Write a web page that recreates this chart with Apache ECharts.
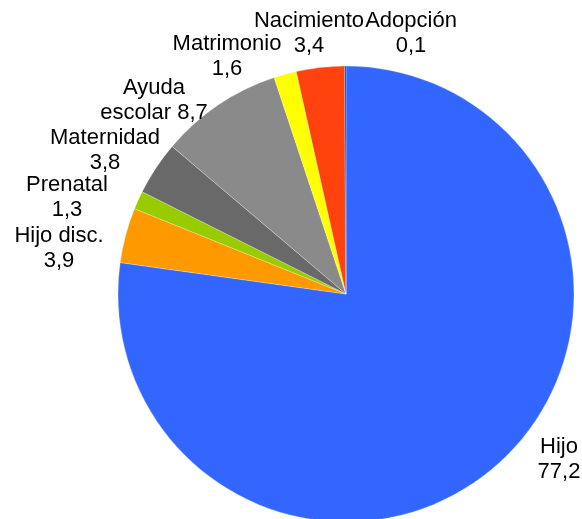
<!DOCTYPE html>
<html>
<head>
<meta charset="utf-8">
<script src="https://cdn.jsdelivr.net/npm/echarts@6/dist/echarts.min.js"></script>
<style>
    html, body { margin: 0; padding: 0; background: #fff; }
    #chart { width: 582px; height: 519px; }
</style>
</head>
<body>
<div id="chart"></div>
<script>
// datos del gráfico
var categorias = ['Hijo', 'Hijo disc.', 'Prenatal', 'Maternidad', 'Ayuda escolar', 'Matrimonio', 'Nacimiento', 'Adopción'];
var valores = [77.2, 3.9, 1.3, 3.8, 8.7, 1.6, 3.4, 0.1];
var colores = ['#3366FF', '#FF9900', '#99CC00', '#696969', '#8A8A8A', '#FFFF00', '#FF420E', '#004586'];
// posicion de cada etiqueta (centro del texto)
var etiquetaXY = [[559, 459], [59, 248], [67, 197], [105, 150], [154, 100], [227, 56], [309, 33], [411, 33]];
// texto de etiqueta en dos lineas
var etiquetaTxt = ['Hijo\n', 'Hijo disc.\n', 'Prenatal\n', 'Maternidad\n', 'Ayuda\nescolar ', 'Matrimonio\n', 'Nacimiento\n', 'Adopción\n'];

var myChart = echarts.init(document.getElementById('chart'));

var datos = [];
for (var i = 0; i < categorias.length; i++) {
    datos.push({
        name: categorias[i],
        value: valores[i],
        itemStyle: { color: colores[i] }
    });
}

var option = {
    animation: false,
    series: [
        {
            type: 'pie',
            center: [346, 294],
            radius: 228,
            startAngle: 90,
            clockwise: true,
            avoidLabelOverlap: false,
            data: datos,
            itemStyle: {
                borderColor: 'rgba(255,255,255,0.5)',
                borderWidth: 0.5
            },
            label: {
                show: true,
                position: 'outside',
                fontFamily: 'Liberation Sans, Arial, sans-serif',
                fontSize: 22,
                lineHeight: 25,
                color: '#000',
                formatter: function (p) {
                    //  coma decimal
                    return etiquetaTxt[p.dataIndex] + String(p.value.toFixed(1)).replace('.', ',');
                }
            },
            labelLine: { show: false },
            labelLayout: function (p) {
                var xy = etiquetaXY[p.dataIndex];
                return {
                    x: xy[0],
                    y: xy[1],
                    align: 'center',
                    verticalAlign: 'middle'
                };
            }
        }
    ]
};
myChart.setOption(option);
</script>
</body>
</html>
